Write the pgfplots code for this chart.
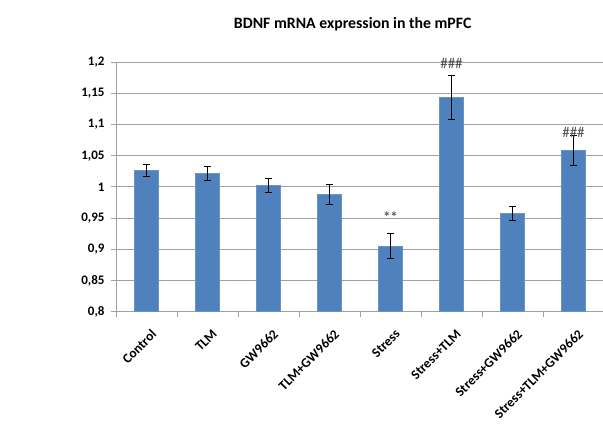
\documentclass[border=0pt]{standalone}
\usepackage{pgfplots}
\pgfplotsset{compat=1.18}
\usepackage{fontspec}
\setmainfont{Carlito}
\definecolor{barblue}{HTML}{4F81BD}
\definecolor{gridgray}{HTML}{A0A0A0}
\begin{document}
\begin{tikzpicture}
\useasboundingbox (0pt,0pt) rectangle (603pt,427pt);
\begin{axis}[
  at={(116pt,115.3pt)}, anchor=south west,
  scale only axis, width=488pt, height=249.7pt,
  xmin=-0.5, xmax=7.5, ymin=0.8, ymax=1.2,
  ytick={0.8,0.85,...,1.21},
  ymajorgrids, grid style={gridgray, line width=0.8pt},
  axis x line*=bottom, axis y line*=left,
  axis line style={gridgray, line width=0.8pt},
  xtick={0,...,7}, major x tick style={draw=none},
  minor xtick={-0.5,0.5,...,7.5},
  minor x tick style={gridgray, line width=0.8pt},
  tick align=outside, minor tick length=5pt, major tick length=5pt,
  ytick style={gridgray, line width=0.8pt},
  xticklabels={Control,TLM,GW9662,TLM+GW9662,Stress,Stress+TLM,Stress+GW9662,Stress+TLM+GW9662},
  x tick label style={xshift=4pt, yshift=-7pt, rotate=45, anchor=north east, font=\bfseries\fontsize{13.5}{13.5}\selectfont},
  y tick label style={font=\bfseries\fontsize{13}{13}\selectfont, xshift=-3pt},
  /pgf/number format/use comma, /pgf/number format/assume math mode=true,
  title={BDNF mRNA expression in the mPFC},
  title style={font=\bfseries\fontsize{15.8}{15.8}\selectfont, at={(0.485,1)}, yshift=21pt},
  clip=false,
]
\addplot[ybar, bar width=0.4, fill=barblue, draw=barblue!85!white,
  error bars/.cd, y dir=both, y explicit,
  error bar style={black, line width=0.9pt},
  error mark options={rotate=90, mark size=3.5pt, black, line width=0.9pt}]
coordinates {
 (0,1.026) +- (0,0.010)
 (1,1.022) +- (0,0.011)
 (2,1.002) +- (0,0.011)
 (3,0.988) +- (0,0.016)
 (4,0.905) +- (0,0.020)
 (5,1.143) +- (0,0.035)
 (6,0.957) +- (0,0.011)
 (7,1.058) +- (0,0.024)
};
\node[font=\bfseries\fontsize{15}{15}\selectfont, text=black!65] at (axis cs:4,0.951) {**};
\node[font=\fontsize{15}{15}\selectfont, text=black!70] at (axis cs:5,1.197) {\#\#\#};
\node[font=\fontsize{15}{15}\selectfont, text=black!70] at (axis cs:7,1.087) {\#\#\#};
\end{axis}
\end{tikzpicture}
\end{document}
